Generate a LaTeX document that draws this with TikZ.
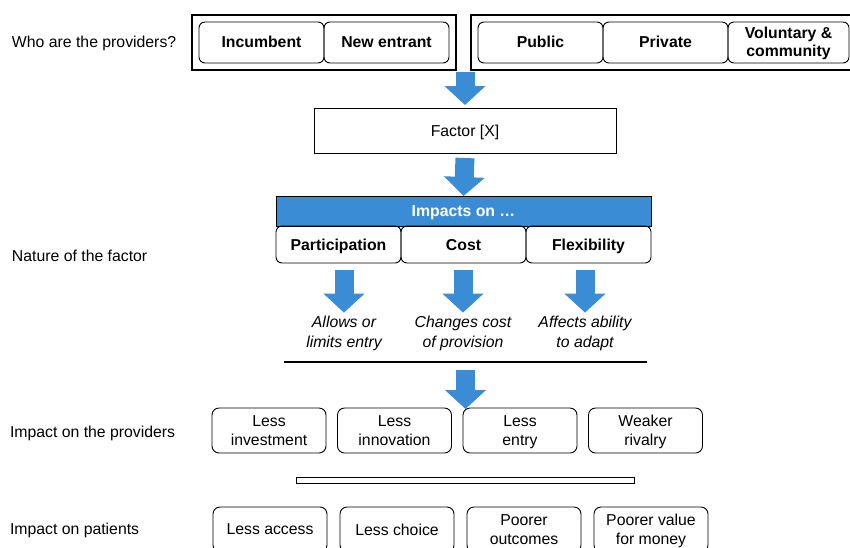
\documentclass[tikz,border=0pt]{standalone}
\usepackage{fontspec}
\setmainfont{Liberation Sans}
\usepackage{tikz}
\usetikzlibrary{positioning,fit,calc,arrows.meta}
\definecolor{blockblue}{HTML}{3A8DD5}

\begin{document}
\begin{tikzpicture}[x=1pt, y=-1pt, node distance=0pt,
    every node/.style={font=\fontsize{15.8}{19}\selectfont, align=center, inner sep=0pt, outer sep=0pt, line width=0.9pt},
    provbox/.style={draw, rounded corners=6pt, minimum width=125pt, minimum height=41pt, text depth=0.5pt, font=\fontsize{15.8}{18}\selectfont\bfseries},
    outbox/.style={draw, line width=1.2pt, inner sep=7pt},
    headcell/.style={draw, rounded corners=6pt, minimum width=125pt, minimum height=37pt, text height=11.5pt, text depth=0.5pt, font=\fontsize{15.8}{19}\selectfont\bfseries},
    effect/.style={font=\fontsize{15.8}{20}\selectfont\itshape},
    impbox/.style={draw, rounded corners=7pt, minimum width=114pt, minimum height=45pt, text depth=0pt},
    rowlabel/.style={anchor=west},
    blockarrow/.style={line width=19pt, blockblue, -{Triangle[length=19pt, width=40pt]}}]
    \clip (0,0) rectangle (850,547);

    \node[rowlabel] (lwho) at (12,43) {Who are the providers?};
    \node[rowlabel] (lnature) at (12,256) {Nature of the factor};
    \node[rowlabel] (lprov) at (10,433) {Impact on the providers};
    \node[rowlabel] (lpat) at (10,530) {Impact on patients};

    \node[provbox] (inc) at (261.5,42.5) {Incumbent};
    \node[provbox, right=of inc] (newent) {New entrant};
    \node[provbox] (pub) at (540.5,42.5) {Public};
    \node[provbox, right=of pub] (priv) {Private};
    \node[provbox, right=of priv, minimum width=121pt] (vol) {Voluntary \&\\community};
    \node[outbox, fit=(inc)(newent)] (provL) {};
    \node[outbox, fit=(pub)(vol)] (provR) {};

    \node[draw, minimum width=302pt, minimum height=45pt, text height=11.5pt, text depth=0.5pt] (factor) at (465,130.5) {Factor [X]};

    \node[draw, fill=blockblue, text=white, minimum width=375pt, minimum height=30pt, text height=11.5pt, text depth=0pt, font=\fontsize{15.8}{19}\selectfont\bfseries] (bar) at (463.5,211) {Impacts on \dots};
    \node[headcell, below=0pt of bar.south west, anchor=north west] (part) {Participation};
    \node[headcell, right=of part] (cost) {Cost};
    \node[headcell, right=of cost] (flex) {Flexibility};

    \node[effect] (entry) at (344,333) {Allows or\\limits entry};
    \node[effect] (costprov) at (463,333) {Changes cost\\of provision};
    \node[effect] (adapt) at (585,333) {Affects ability\\to adapt};

    \coordinate (sepL) at (284,362);
    \coordinate (sepR) at (647,362);
    \coordinate (sepM) at ($(sepL)!0.5!(sepR)$);

    \node[impbox] (invest) at (269,430.5) {Less\\investment};
    \node[impbox, right=11.5pt of invest] (innov) {Less\\innovation};
    \node[impbox, right=11.5pt of innov] (lentry) {Less\\entry};
    \node[impbox, right=11.5pt of lentry] (rivalry) {Weaker\\rivalry};

    \node[draw, minimum width=338pt, minimum height=6pt] (thinbar) at (465,480) {};

    \node[impbox] (access) at (270,529.5) {Less access};
    \node[impbox, right=13pt of access] (choice) {Less choice};
    \node[impbox, right=13pt of choice] (outcomes) {Poorer\\outcomes};
    \node[impbox, right=13pt of outcomes] (value) {Poorer value\\for money};

    \coordinate (gap) at ($(provL.south east)!0.5!(provR.south west)$);
    \draw[blockarrow] ([yshift=-2pt]factor.north |- gap) -- ([yshift=3pt]factor.north);
    \draw[blockarrow] ([yshift=-5pt]factor.south) -- (bar.north);
    \draw[blockarrow] ([yshift=-7pt]entry |- part.south) -- ([yshift=3pt]entry.north);
    \draw[blockarrow] ([yshift=-7pt]costprov |- cost.south) -- ([yshift=3pt]costprov.north);
    \draw[blockarrow] ([yshift=-7pt]adapt |- flex.south) -- ([yshift=3pt]adapt.north);
    \draw[line width=2.5pt] (sepL) -- (sepR);
    \draw[blockarrow] ([yshift=-8pt]sepM) -- ([yshift=-1pt]sepM |- innov.north);
  \end{tikzpicture}
\end{document}
